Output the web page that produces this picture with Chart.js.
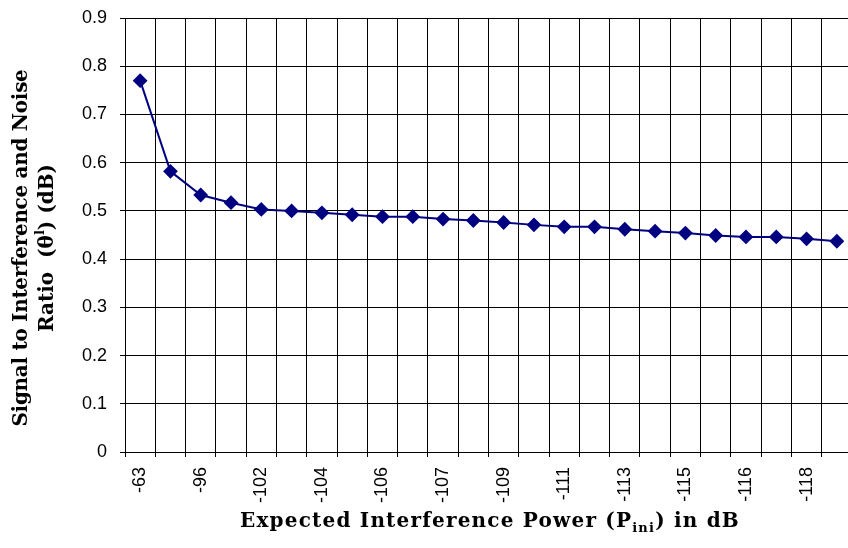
<!DOCTYPE html>
<html>
<head>
<meta charset="utf-8">
<script src="https://cdn.jsdelivr.net/npm/chart.js@4"></script>
<style>
  html, body { margin: 0; padding: 0; background: #fff; overflow: hidden; }
  #box { width: 860px; height: 548px; }
</style>
</head>
<body>
<div id="box"><canvas id="grafico" width="860" height="548"></canvas></div>
<script>
// categories (only every other one is labelled in the original)
const categorias = ['-63', '-88', '-96', '-100', '-102', '-103', '-104', '-105',
    '-106', '-106', '-107', '-108', '-109', '-110', '-111', '-112',
    '-113', '-114', '-115', '-115', '-116', '-117', '-118', '-119'];

const sinr = [0.770, 0.582, 0.533, 0.517, 0.503, 0.500, 0.496, 0.492,
    0.488, 0.488, 0.483, 0.480, 0.476, 0.471, 0.467, 0.467,
    0.462, 0.458, 0.454, 0.449, 0.446, 0.446, 0.442, 0.437];

const yTicks = [0, 0.1, 0.2, 0.3, 0.4, 0.5, 0.6, 0.7, 0.8, 0.9];

const tituloFonte = 'bold 20px "DejaVu Serif"';
const tituloFontePeq = 'bold 13px "DejaVu Serif"';

// draws a run of text pieces, some shifted as sub/superscript
function textoRico(ctx, partes, x, y, espaco) {
    ctx.letterSpacing = (espaco || 0) + 'px';
    let total = 0;
    partes.forEach(p => {
        ctx.font = p.shift ? tituloFontePeq : tituloFonte;
        total += ctx.measureText(p.t).width;
    });
    let cx = x - total / 2;
    partes.forEach(p => {
        ctx.font = p.shift ? tituloFontePeq : tituloFonte;
        ctx.fillText(p.t, cx, y + (p.shift || 0));
        cx += ctx.measureText(p.t).width;
    });
    ctx.letterSpacing = '0px';
}

const titulos = {
    id: 'titulos',
    afterDraw(chart) {
        const ctx = chart.ctx;
        ctx.save();
        ctx.fillStyle = '#000';
        ctx.textAlign = 'left';
        ctx.textBaseline = 'alphabetic';
        textoRico(ctx, [
            { t: 'Expected Interference Power (P' },
            { t: 'ini', shift: 5 },
            { t: ') in dB' }
        ], 490, 527, 1.2);

        ctx.translate(0, 248);
        ctx.rotate(-Math.PI / 2);
        textoRico(ctx, [{ t: 'Signal to Interference and Noise' }], 0, 27, -0.3);
        textoRico(ctx, [
            { t: 'Ratio  (\u03B8' },
            { t: 'l', shift: -9 },
            { t: ') (dB)' }
        ], 0, 53);
        ctx.restore();
    }
};

const grafico = new Chart(
    document.getElementById('grafico'),
    {
        type: 'line',
        data: {
            labels: categorias,
            datasets: [{
                data: sinr,
                borderColor: '#000080',
                backgroundColor: '#000080',
                borderWidth: 2,
                pointStyle: 'rectRot',
                pointRadius: 6,
                pointHoverRadius: 6,
                tension: 0,
                fill: false
            }]
        },
        options: {
            responsive: false,
            animation: false,
            layout: { padding: { top: 18, right: 3, left: 0, bottom: 0 } },
            plugins: { legend: { display: false }, tooltip: { enabled: false } },
            scales: {
                x: {
                    offset: true,
                    afterFit(scale) {
                        scale.height = 96;
                        scale.paddingLeft = 0;
                        scale.paddingRight = 0;
                    },
                    grid: { color: '#000', lineWidth: 1, offset: true, tickLength: 5 },
                    border: { color: '#000', width: 1 },
                    ticks: {
                        autoSkip: false,
                        minRotation: 90,
                        maxRotation: 90,
                        padding: 10,
                        color: '#000',
                        font: { family: '"Liberation Sans", Arial', size: 18 },
                        callback: (v, i) => i % 2 === 0 ? categorias[i] : ''
                    }
                },
                y: {
                    min: 0,
                    max: 0.9,
                    afterFit(scale) {
                        scale.width = 125;
                        scale.paddingTop = 0;
                        scale.paddingBottom = 0;
                    },
                    afterBuildTicks(scale) { scale.ticks = yTicks.map(v => ({ value: v })); },
                    grid: { color: '#000', lineWidth: 1, tickLength: 5 },
                    border: { color: '#000', width: 1 },
                    ticks: {
                        padding: 13,
                        color: '#000',
                        font: { family: '"Liberation Sans", Arial', size: 18 },
                        callback: v => String(Number(v.toFixed(1)))
                    }
                }
            }
        },
        plugins: [titulos]
    }
);
</script>
</body>
</html>
